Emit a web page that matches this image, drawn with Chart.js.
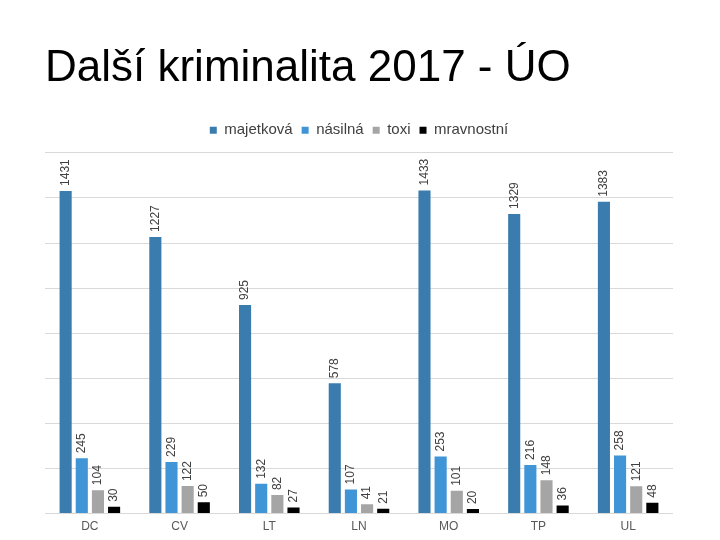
<!DOCTYPE html>
<html>
<head>
<meta charset="utf-8">
<script src="https://cdn.jsdelivr.net/npm/chart.js@4/dist/chart.umd.min.js"></script>
<style>
  html, body { margin: 0; padding: 0; background: #fff; }
  #wrap { width: 720px; height: 540px; }
</style>
</head>
<body>
<div id="wrap"><canvas id="chart" width="720" height="540"></canvas></div>
<script>
const categories = ["DC", "CV", "LT", "LN", "MO", "TP", "UL"];
const majetkova = [1431, 1227, 925, 578, 1433, 1329, 1383];
const nasilna = [245, 229, 132, 107, 253, 216, 258];
const toxi = [104, 122, 82, 41, 101, 148, 121];
const mravnostni = [30, 50, 27, 21, 20, 36, 48];

const FONT = "'Liberation Sans', Arial, sans-serif";

// labels drawn vertically above each bar
const barLabels = {
    id: "barLabels",
    afterDatasetsDraw(chart) {
        const ctx = chart.ctx;
        ctx.save();
        ctx.font = "12px " + FONT;
        ctx.fillStyle = "#404040";
        ctx.textAlign = "left";
        ctx.textBaseline = "middle";
        chart.data.datasets.forEach((ds, i) => {
            const meta = chart.getDatasetMeta(i);
            meta.data.forEach((bar, j) => {
                ctx.save();
                ctx.translate(bar.x, bar.y - 5);
                ctx.rotate(-Math.PI / 2);
                ctx.fillText(String(ds.data[j]), 0, 0);
                ctx.restore();
            });
        });
        ctx.restore();
    }
};

// a bit more room under the legend
const legendGap = {
    id: "legendGap",
    beforeInit(chart) {
        const fit = chart.legend.fit;
        chart.legend.fit = function () {
            fit.bind(chart.legend)();
            this.height += 5;
        };
    }
};

const ctx = document.getElementById("chart").getContext("2d");
new Chart(ctx, {
    type: "bar",
    data: {
        labels: categories,
        datasets: [
            { label: "majetková", data: majetkova, backgroundColor: "#3b7cae" },
            { label: "násilná", data: nasilna, backgroundColor: "#3f95d6" },
            { label: "toxi", data: toxi, backgroundColor: "#a5a5a5" },
            { label: "mravnostní", data: mravnostni, backgroundColor: "#000000" }
        ]
    },
    options: {
        responsive: false,
        animation: false,
        layout: { padding: { left: 45, right: 47, top: 42, bottom: 0 } },
        datasets: {
            bar: { categoryPercentage: 0.72, barPercentage: 0.75 }
        },
        plugins: {
            title: {
                display: true,
                text: "Další kriminalita 2017 - ÚO",
                align: "start",
                color: "#000",
                font: { family: FONT, size: 44, weight: "normal" },
                padding: { top: 0, bottom: 19 }
            },
            legend: {
                position: "top",
                labels: {
                    boxWidth: 7,
                    boxHeight: 7,
                    padding: 9,
                    color: "#404040",
                    font: { family: FONT, size: 15 }
                }
            },
            tooltip: { enabled: false }
        },
        scales: {
            x: {
                grid: { display: false, drawTicks: false },
                border: { display: false },
                ticks: {
                    color: "#595959",
                    padding: 6,
                    font: { family: FONT, size: 12 }
                }
            },
            y: {
                min: 0,
                max: 1600,
                ticks: { display: false, stepSize: 200 },
                grid: { color: "#d9d9d9", drawTicks: false },
                border: { display: false }
            }
        }
    },
    plugins: [barLabels, legendGap]
});
</script>
</body>
</html>
